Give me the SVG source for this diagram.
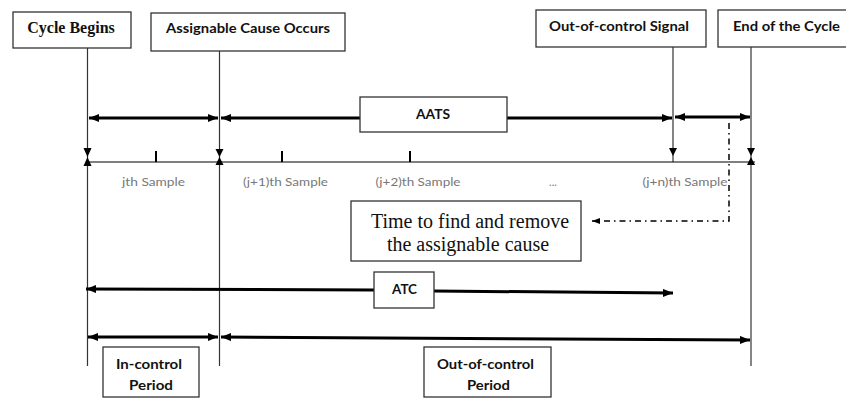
<svg xmlns="http://www.w3.org/2000/svg" width="846" height="398" viewBox="0 0 846 398">
<defs>
<style>
.box{fill:#fff;stroke:#333;stroke-width:1.3}
.vl{stroke:#333;stroke-width:1.2;fill:none}
.thick{stroke:#000;stroke-width:3;fill:none}
.dd{stroke:#000;stroke-width:1.5;fill:none;stroke-dasharray:6 4 1.5 4}
.tri{fill:#000}
.lb{font-family:Lato,"Liberation Sans",sans-serif;font-weight:bold;font-size:14px;fill:#111;text-anchor:middle}
.sr{font-family:"Liberation Serif",serif;fill:#111;text-anchor:middle}
.smp{font-family:Lato,"Liberation Sans",sans-serif;font-size:11px;fill:#777;text-anchor:middle}
</style>
<marker id="ah" viewBox="0 0 10 8" refX="10" refY="4" markerWidth="10" markerHeight="8" markerUnits="userSpaceOnUse" orient="auto-start-reverse">
<path d="M0,0 L10,4 L0,8 Z" fill="#000"/>
</marker>
<marker id="ahs" viewBox="0 0 8 6" refX="8" refY="3" markerWidth="8" markerHeight="6" markerUnits="userSpaceOnUse" orient="auto">
<path d="M0,0 L8,3 L0,6 Z" fill="#000"/>
</marker>
</defs>
<rect width="846" height="398" fill="#fff"/>

<g id="connectors">
<!-- vertical event lines -->
<line class="vl" x1="87.5" y1="48" x2="87.5" y2="366"/>
<line class="vl" x1="219.5" y1="51" x2="219.5" y2="366"/>
<line class="vl" x1="673" y1="47" x2="673" y2="162"/>
<line class="vl" x1="751" y1="47" x2="751" y2="366"/>
<!-- time axis -->
<line x1="87.5" y1="162" x2="755" y2="162" stroke="#000" stroke-width="1.2"/>
<!-- ticks -->
<line x1="156" y1="151" x2="156" y2="162" stroke="#000" stroke-width="2"/>
<line x1="282" y1="151" x2="282" y2="162" stroke="#000" stroke-width="2"/>
<line x1="410" y1="151" x2="410" y2="162" stroke="#000" stroke-width="2"/>
<!-- axis triangles -->
<path class="tri" d="M83.5,148 L91.5,148 L87.5,157 Z"/>
<path class="tri" d="M83.5,166 L91.5,166 L87.5,157 Z"/>
<path class="tri" d="M215.5,149 L223.5,149 L219.5,157 Z"/>
<path class="tri" d="M215.5,165 L223.5,165 L219.5,157 Z"/>
<path class="tri" d="M669,148 L677,148 L673,156 Z"/>
<path class="tri" d="M747,148 L755,148 L751,156 Z"/>
<path class="tri" d="M747,165 L755,165 L751,157 Z"/>
<!-- row 1 arrows -->
<line class="thick" x1="89" y1="118" x2="218" y2="118" marker-start="url(#ah)" marker-end="url(#ah)"/>
<line class="thick" x1="221" y1="118" x2="360" y2="118" marker-start="url(#ah)"/>
<line class="thick" x1="507" y1="118" x2="672" y2="118" marker-end="url(#ah)"/>
<line class="thick" x1="675" y1="117" x2="750" y2="117" marker-start="url(#ah)" marker-end="url(#ah)"/>
<!-- dash-dot -->
<polyline class="dd" points="729,123 729,221 592,221" marker-end="url(#ahs)"/>
<!-- ATC -->
<line class="thick" x1="86" y1="289" x2="374" y2="290" marker-start="url(#ah)"/>
<line class="thick" x1="434" y1="291" x2="673" y2="293" marker-end="url(#ah)"/>
<!-- bottom periods -->
<line class="thick" x1="88" y1="337" x2="218" y2="337" marker-start="url(#ah)" marker-end="url(#ah)"/>
<line class="thick" x1="221" y1="337" x2="750" y2="340" marker-start="url(#ah)" marker-end="url(#ah)"/>
</g>

<g id="cycle-begins">
<rect class="box" x="13" y="12" width="118" height="36"/>
<text class="sr" x="71" y="33" font-size="16" font-weight="bold">Cycle Begins</text>
</g>
<g id="assignable-cause">
<rect class="box" x="151" y="13" width="194" height="38"/>
<text class="lb" x="248" y="33" textLength="164" lengthAdjust="spacingAndGlyphs">Assignable Cause Occurs</text>
</g>
<g id="ooc-signal">
<rect class="box" x="536" y="10" width="170" height="37"/>
<text class="lb" x="619" y="31" textLength="140" lengthAdjust="spacingAndGlyphs">Out-of-control Signal</text>
</g>
<g id="end-cycle">
<rect class="box" x="718" y="10" width="140" height="37"/>
<text class="lb" x="786.5" y="31" textLength="107" lengthAdjust="spacingAndGlyphs">End of the Cycle</text>
</g>
<g id="aats">
<rect class="box" x="360" y="97" width="147" height="35"/>
<text class="lb" x="433" y="119" textLength="34" lengthAdjust="spacingAndGlyphs">AATS</text>
</g>
<g id="samples">
<text class="smp" x="153.5" y="186" textLength="63" lengthAdjust="spacingAndGlyphs">jth Sample</text>
<text class="smp" x="285.5" y="186" textLength="85" lengthAdjust="spacingAndGlyphs">(j+1)th Sample</text>
<text class="smp" x="418" y="186" textLength="85" lengthAdjust="spacingAndGlyphs">(j+2)th Sample</text>
<text class="smp" x="553" y="186">...</text>
<text class="smp" x="685" y="186" textLength="85" lengthAdjust="spacingAndGlyphs">(j+n)th Sample</text>
</g>
<g id="time-remove">
<rect class="box" x="351" y="201" width="230" height="60"/>
<text class="sr" x="470" y="228" font-size="20">Time to find and remove</text>
<text class="sr" x="468" y="251" font-size="20">the assignable cause</text>
</g>
<g id="atc">
<rect class="box" x="374" y="272" width="60" height="36"/>
<text class="lb" x="404.5" y="294" textLength="25" lengthAdjust="spacingAndGlyphs">ATC</text>
</g>
<g id="in-control">
<rect class="box" x="103" y="347" width="96" height="50"/>
<text class="lb" x="149" y="369" textLength="66" lengthAdjust="spacingAndGlyphs">In-control</text>
<text class="lb" x="151" y="390" textLength="44" lengthAdjust="spacingAndGlyphs">Period</text>
</g>
<g id="out-of-control">
<rect class="box" x="424" y="347" width="127" height="50"/>
<text class="lb" x="485.5" y="369" textLength="97" lengthAdjust="spacingAndGlyphs">Out-of-control</text>
<text class="lb" x="488.5" y="390" textLength="43" lengthAdjust="spacingAndGlyphs">Period</text>
</g>
</svg>
